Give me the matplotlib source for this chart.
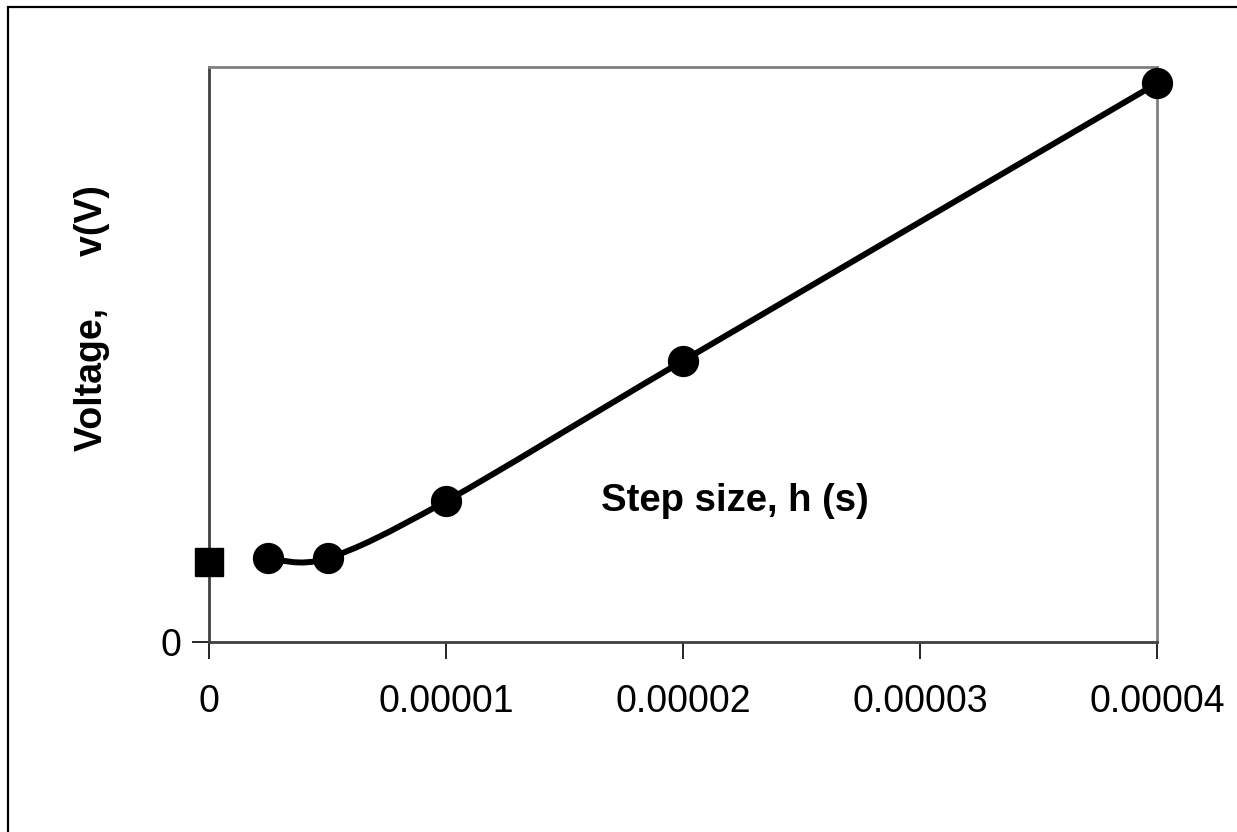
import matplotlib
matplotlib.use("Agg")
import matplotlib.pyplot as plt
from matplotlib.path import Path
from matplotlib.patches import PathPatch, Rectangle
import numpy as np

plt.rcParams['font.family'] = ['Liberation Sans', 'DejaVu Sans']

# Data
step_h = [0.0000025, 0.000005, 0.00001, 0.00002, 0.00004]
voltage = [0.1456, 0.1456, 0.245, 0.489, 0.9716]
exact_h = [0.0]
exact_v = [0.1397]
xtick_vals = [0, 0.00001, 0.00002, 0.00003, 0.00004]
xtick_labels = ['0', '0.00001', '0.00002', '0.00003', '0.00004']
ytick_vals = [0]
ytick_labels = ['0']

fig = plt.figure(figsize=(12.37, 8.32), dpi=100)
# outer border (chart area)
fig.patches.append(Rectangle((8/1237, -0.1), 1.2, 1 - 7/832 + 0.1, transform=fig.transFigure,
                             fill=False, edgecolor='black', linewidth=1.6, zorder=0))

ax = fig.add_axes([209/1237, 1 - 642/832, (1157 - 209)/1237, (642 - 67)/832])
ax.set_xlim(0, 0.00004)
ax.set_ylim(0, 1.0)

# Smoothed line (Bezier, Catmull-Rom style control points)
pts = np.column_stack([step_h, voltage])
verts = [tuple(pts[0])]
codes = [Path.MOVETO]
n = len(pts)
for i in range(n - 1):
    p0 = pts[i - 1] if i > 0 else pts[i]
    p1 = pts[i]
    p2 = pts[i + 1]
    p3 = pts[i + 2] if i + 2 < n else pts[i + 1]
    c1 = p1 + (p2 - p0) / 6.0
    c2 = p2 - (p3 - p1) / 6.0
    verts += [tuple(c1), tuple(c2), tuple(p2)]
    codes += [Path.CURVE4] * 3
ax.add_patch(PathPatch(Path(verts, codes), facecolor='none', edgecolor='black',
                       linewidth=4.3, zorder=3, capstyle='round', joinstyle='round'))

ax.plot(step_h, voltage, linestyle='none', marker='o', markersize=21.5,
        color='black', zorder=4, clip_on=False)
ax.plot(exact_h, exact_v, linestyle='none', marker='s', markersize=19.5,
        color='black', zorder=4, clip_on=False)

ax.set_xticks(xtick_vals)
ax.set_xticklabels(xtick_labels)
ax.set_yticks(ytick_vals)
ax.set_yticklabels(ytick_labels)
ax.tick_params(axis='both', direction='out', length=12, width=1.2, color='black',
               labelsize=27)
ax.tick_params(axis='x', pad=18)
ax.tick_params(axis='y', pad=8)

for s in ['left', 'bottom']:
    ax.spines[s].set_color('#404040')
    ax.spines[s].set_linewidth(2)
for s in ['top', 'right']:
    ax.spines[s].set_color('#808080')
    ax.spines[s].set_linewidth(2)

ax.text(0.0000222, 0.245, 'Step size, h (s)', fontsize=27.5, fontweight='bold',
        ha='center', va='center', zorder=5)
fig.text(92/1237, 1 - 318/832, 'Voltage,     v(V)', fontsize=27, fontweight='bold',
         rotation=90, ha='center', va='center')

fig.savefig('out.png', dpi=100, facecolor='white')
